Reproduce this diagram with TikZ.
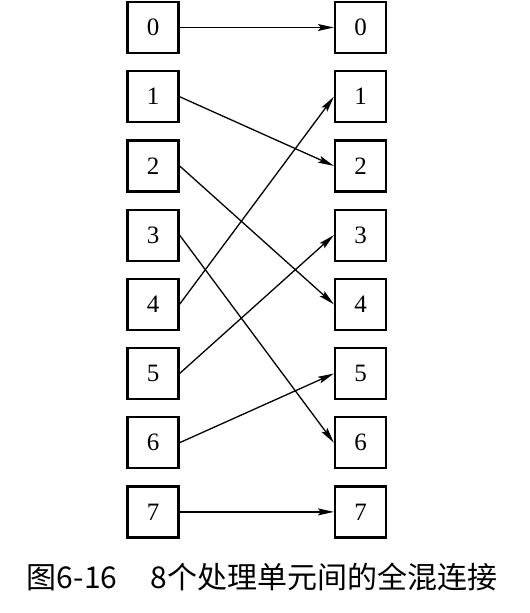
\documentclass[tikz,border=0pt]{standalone}
\usepackage{fontspec}
\setmainfont{Liberation Serif}
\newfontfamily\cjk{Noto Sans CJK SC}
\usetikzlibrary{arrows.meta,positioning}

\begin{document}
\begin{tikzpicture}[
    x=1pt, y=1pt,
    pe/.style={draw, line width=2.2pt, rectangle, minimum width=51pt, minimum height=51pt, inner sep=0pt, font=\fontsize{25}{28}\selectfont},
    link/.style={line width=1.3pt, -{Stealth[length=16pt,width=7pt,inset=3pt]}}
]
\useasboundingbox (0,0) rectangle (530,-613);

% processing units
\node[pe] (l0) at (153,-27.5) {0};
\node[pe] (r0) at (360.5,-27.5) {0};
\foreach \i [count=\j from 0] in {1,...,7}{
    \node[pe, below=16pt of l\j] (l\i) {\i};
    \node[pe, below=16pt of r\j] (r\i) {\i};
}

% perfect shuffle
\foreach \s/\t in {0/0,1/2,2/4,3/6,4/1,5/3,6/5,7/7}
    \draw[link] (l\s.east) -- (r\t.west);

\node (cap) at (262,-577) {\cjk\fontsize{30}{33}\selectfont 图6-16\hspace{1.1em}8个处理单元间的全混连接};

\end{tikzpicture}
\end{document}
